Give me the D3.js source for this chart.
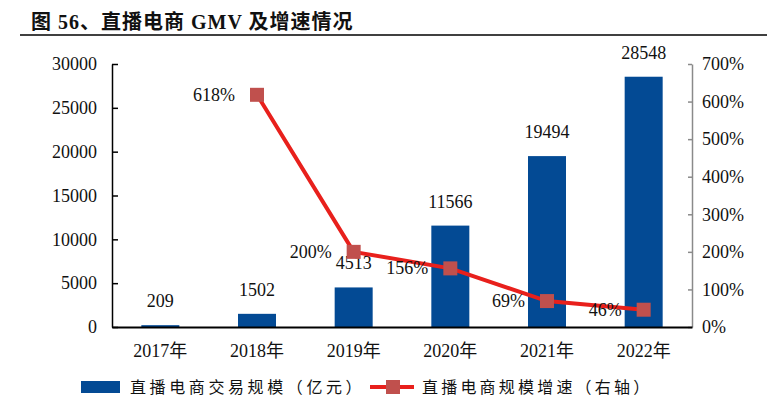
<!DOCTYPE html>
<meta charset="utf-8" />
<style>
  body {
    margin: 0px;
    padding: 0px;
    background: #fff;
  }
  svg {
    display: block;
  }
  svg text {
    font-family: "Liberation Serif", "Times New Roman", "DejaVu Serif", "Noto Sans CJK SC", serif;
    fill: #111;
  }
  svg text.cjk {
    font-family: "Noto Sans CJK SC", sans-serif;
  }
</style>

<svg width="767" height="399"></svg>

<script src="https://d3js.org/d3.v7.min.js"></script>
<script>
  // data
  const years = ["2017年", "2018年", "2019年", "2020年", "2021年", "2022年"];
  const gmv = [209, 1502, 4513, 11566, 19494, 28548];
  const growth = [null, 618, 200, 156, 69, 46];
  const leftTicks = [0, 5000, 10000, 15000, 20000, 25000, 30000];
  const rightTicks = [0, 100, 200, 300, 400, 500, 600, 700];

  const svg = d3.select("svg");

  const plotLeft = 112,
    plotRight = 692,
    plotTop = 64,
    plotBottom = 327;

  const x = d3.scaleBand().domain(years).range([plotLeft, plotRight]).padding(0);
  const y = d3.scaleLinear().domain([0, 30000]).range([plotBottom, plotTop]);
  const y2 = d3.scaleLinear().domain([0, 700]).range([plotBottom, plotTop]);

  const barW = 38;
  const blue = "#034a94";

  // title
  svg
    .append("text")
    .attr("x", 31)
    .attr("y", 29)
    .style("font-size", "20px")
    .style("font-weight", "bold")
    .style("letter-spacing", "1px")
    .text("图 56、直播电商 GMV 及增速情况");

  svg
    .append("line")
    .attr("x1", 20)
    .attr("x2", 767)
    .attr("y1", 35)
    .attr("y2", 35)
    .attr("stroke", "#000")
    .attr("stroke-width", 1.3);

  // bars
  svg
    .append("g")
    .selectAll("rect")
    .data(gmv)
    .enter()
    .append("rect")
    .attr("x", (d, i) => x(years[i]) + x.bandwidth() / 2 - barW / 2)
    .attr("y", (d) => y(d))
    .attr("width", barW)
    .attr("height", (d) => plotBottom - y(d))
    .attr("fill", blue);

  // bar labels
  svg
    .append("g")
    .selectAll("text")
    .data(gmv)
    .enter()
    .append("text")
    .attr("x", (d, i) => x(years[i]) + x.bandwidth() / 2)
    .attr("y", (d) => y(d) - 18)
    .attr("text-anchor", "middle")
    .style("font-size", "18px")
    .text((d) => d);

  // left axis
  const yAxis = d3
    .axisLeft(y)
    .tickValues(leftTicks)
    .tickFormat(d3.format("d"))
    .tickSize(-6)
    .tickPadding(15)
    .tickSizeOuter(0);
  const gy = svg.append("g").attr("transform", `translate(${plotLeft},0)`).call(yAxis);
  gy.attr("font-family", null);
  gy.select(".domain").attr("stroke", "#000").attr("stroke-width", 1.5);
  gy.selectAll(".tick line").attr("stroke", "#000").attr("stroke-width", 1.5);
  gy.selectAll("text").style("font-size", "18px").attr("fill", "#111");

  // right axis
  const yAxis2 = d3
    .axisRight(y2)
    .tickValues(rightTicks)
    .tickSize(-4)
    .tickPadding(10)
    .tickSizeOuter(0)
    .tickFormat((d) => d + "%");
  const gy2 = svg.append("g").attr("transform", `translate(${plotRight},0)`).call(yAxis2);
  gy2.attr("font-family", null);
  gy2.select(".domain").attr("stroke", "#8a8a8a").attr("stroke-width", 1.5);
  gy2.selectAll(".tick line").attr("stroke", "#8a8a8a").attr("stroke-width", 1.5);
  gy2.selectAll("text").style("font-size", "18px").attr("fill", "#111");

  // x axis
  const xAxis = d3.axisBottom(x).tickSize(0).tickPadding(17).tickSizeOuter(0);
  const gx = svg.append("g").attr("transform", `translate(0,${plotBottom})`).call(xAxis);
  gx.attr("font-family", null);
  gx.select(".domain").attr("stroke", "#000").attr("stroke-width", 2);
  gx.selectAll("text").style("font-size", "18px").attr("fill", "#111");

  // growth line
  const pts = growth
    .map((g, i) => ({ year: years[i], g: g }))
    .filter((d) => d.g !== null);

  const line = d3
    .line()
    .x((d) => x(d.year) + x.bandwidth() / 2)
    .y((d) => y2(d.g));

  svg
    .append("path")
    .datum(pts)
    .attr("d", line)
    .attr("fill", "none")
    .attr("stroke", "#e8201c")
    .attr("stroke-width", 4);

  const ms = 14;
  svg
    .append("g")
    .selectAll("rect")
    .data(pts)
    .enter()
    .append("rect")
    .attr("x", (d) => x(d.year) + x.bandwidth() / 2 - ms / 2)
    .attr("y", (d) => y2(d.g) - ms / 2)
    .attr("width", ms)
    .attr("height", ms)
    .attr("fill", "#c0504d");

  svg
    .append("g")
    .selectAll("text")
    .data(pts)
    .enter()
    .append("text")
    .attr("x", (d) => x(d.year) + x.bandwidth() / 2 - 22)
    .attr("y", (d) => y2(d.g) + 6)
    .attr("text-anchor", "end")
    .style("font-size", "18px")
    .text((d) => d.g + "%");

  // legend
  const lg = svg.append("g");
  lg.append("rect").attr("x", 81).attr("y", 381).attr("width", 39).attr("height", 12).attr("fill", blue);
  lg.append("text")
    .attr("class", "cjk")
    .attr("x", 130)
    .attr("y", 393)
    .style("font-size", "16px")
    .style("letter-spacing", "3.6px")
    .text("直播电商交易规模（亿元）");

  lg.append("line")
    .attr("x1", 370)
    .attr("x2", 414)
    .attr("y1", 387)
    .attr("y2", 387)
    .attr("stroke", "#e8201c")
    .attr("stroke-width", 4);
  lg.append("rect").attr("x", 386).attr("y", 380).attr("width", 14).attr("height", 14).attr("fill", "#c0504d");
  lg.append("text")
    .attr("class", "cjk")
    .attr("x", 422)
    .attr("y", 393)
    .style("font-size", "16px")
    .style("letter-spacing", "3.2px")
    .text("直播电商规模增速（右轴）");
</script>
